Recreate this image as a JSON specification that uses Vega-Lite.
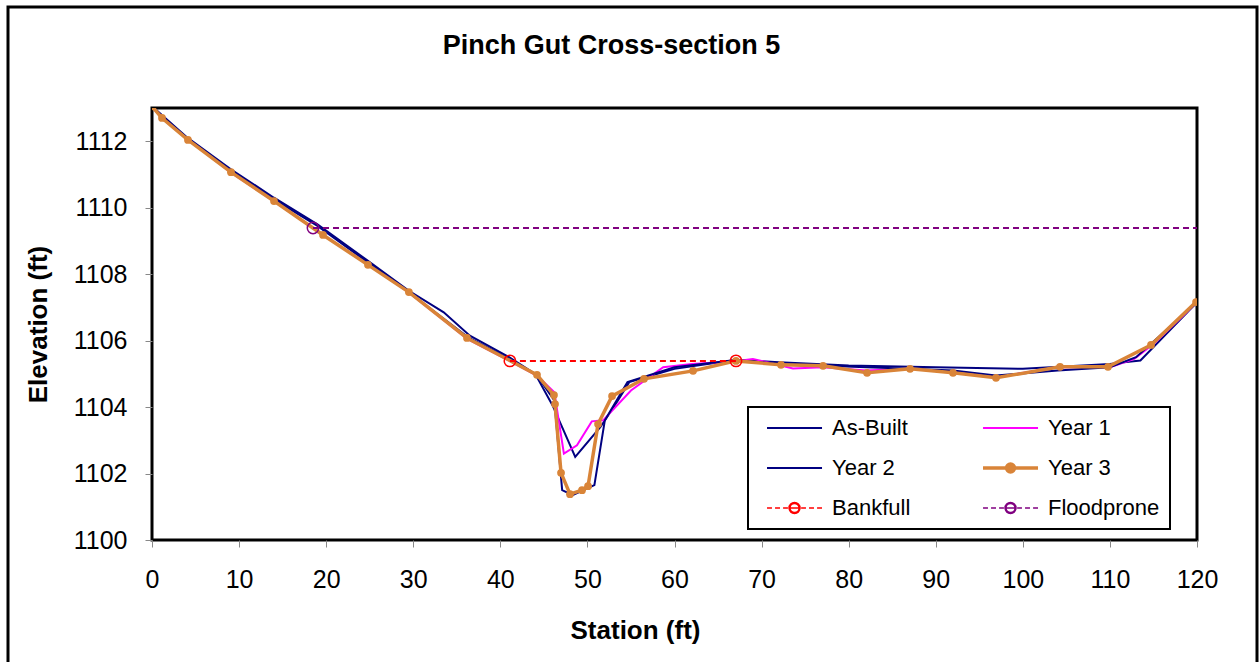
{
  "$schema": "https://vega.github.io/schema/vega-lite/v6.json",
  "width": 1045,
  "height": 432,
  "autosize": {"type": "none"},
  "padding": {"left": 152, "top": 108, "right": 62, "bottom": 122},
  "background": "white",
  "title": {"text": "Pinch Gut Cross-section 5", "font": "Liberation Sans", "fontSize": 27, "fontWeight": "bold", "color": "black", "anchor": "middle", "frame": "group", "dx": -63, "offset": 48, "dy": 102},
  "config": {
    "view": {"stroke": "black", "strokeWidth": 3},
    "axis": {"grid": false, "domain": false, "tickColor": "#888888", "tickSize": 7, "tickWidth": 1, "labelFont": "Liberation Sans", "labelFontSize": 25, "labelColor": "black", "labelFlush": false, "labelOverlap": false, "titleFont": "Liberation Sans", "titleFontSize": 26, "titleFontWeight": "bold", "titleColor": "black"}
  },
  "data": {"values": [
    {"series": "As-Built", "station": 0, "elevation": 1113.05},
    {"series": "As-Built", "station": 4.1, "elevation": 1112.1},
    {"series": "As-Built", "station": 9.1, "elevation": 1111.15},
    {"series": "As-Built", "station": 14, "elevation": 1110.3},
    {"series": "As-Built", "station": 19, "elevation": 1109.5},
    {"series": "As-Built", "station": 24.8, "elevation": 1108.4},
    {"series": "As-Built", "station": 29.5, "elevation": 1107.5},
    {"series": "As-Built", "station": 33.5, "elevation": 1106.85},
    {"series": "As-Built", "station": 36.5, "elevation": 1106.15},
    {"series": "As-Built", "station": 41, "elevation": 1105.5},
    {"series": "As-Built", "station": 44, "elevation": 1105.0},
    {"series": "As-Built", "station": 46, "elevation": 1104.05},
    {"series": "As-Built", "station": 48.6, "elevation": 1102.5},
    {"series": "As-Built", "station": 51.5, "elevation": 1103.4},
    {"series": "As-Built", "station": 53.5, "elevation": 1104.2},
    {"series": "As-Built", "station": 54.8, "elevation": 1104.75},
    {"series": "As-Built", "station": 60, "elevation": 1105.15},
    {"series": "As-Built", "station": 67, "elevation": 1105.42},
    {"series": "As-Built", "station": 72, "elevation": 1105.35},
    {"series": "As-Built", "station": 80, "elevation": 1105.25},
    {"series": "As-Built", "station": 90, "elevation": 1105.2},
    {"series": "As-Built", "station": 100, "elevation": 1105.15},
    {"series": "As-Built", "station": 110, "elevation": 1105.3},
    {"series": "As-Built", "station": 113.5, "elevation": 1105.4},
    {"series": "As-Built", "station": 120, "elevation": 1107.15},

    {"series": "Year 1", "station": 0, "elevation": 1113.05},
    {"series": "Year 1", "station": 1.1, "elevation": 1112.72},
    {"series": "Year 1", "station": 4.1, "elevation": 1112.05},
    {"series": "Year 1", "station": 9.1, "elevation": 1111.05},
    {"series": "Year 1", "station": 14, "elevation": 1110.2},
    {"series": "Year 1", "station": 19.5, "elevation": 1109.2},
    {"series": "Year 1", "station": 24.8, "elevation": 1108.3},
    {"series": "Year 1", "station": 29.5, "elevation": 1107.45},
    {"series": "Year 1", "station": 36.2, "elevation": 1106.05},
    {"series": "Year 1", "station": 41, "elevation": 1105.4},
    {"series": "Year 1", "station": 44.2, "elevation": 1104.95},
    {"series": "Year 1", "station": 46.2, "elevation": 1104.45},
    {"series": "Year 1", "station": 47.3, "elevation": 1102.6},
    {"series": "Year 1", "station": 48.8, "elevation": 1102.85},
    {"series": "Year 1", "station": 50.5, "elevation": 1103.57},
    {"series": "Year 1", "station": 51.8, "elevation": 1103.6},
    {"series": "Year 1", "station": 55, "elevation": 1104.5},
    {"series": "Year 1", "station": 58.7, "elevation": 1105.2},
    {"series": "Year 1", "station": 62, "elevation": 1105.3},
    {"series": "Year 1", "station": 67, "elevation": 1105.38},
    {"series": "Year 1", "station": 69, "elevation": 1105.45},
    {"series": "Year 1", "station": 73.6, "elevation": 1105.16},
    {"series": "Year 1", "station": 77, "elevation": 1105.2},
    {"series": "Year 1", "station": 82, "elevation": 1105.1},
    {"series": "Year 1", "station": 87, "elevation": 1105.15},
    {"series": "Year 1", "station": 92, "elevation": 1105.05},
    {"series": "Year 1", "station": 97, "elevation": 1104.9},
    {"series": "Year 1", "station": 104, "elevation": 1105.2},
    {"series": "Year 1", "station": 110, "elevation": 1105.2},
    {"series": "Year 1", "station": 112.8, "elevation": 1105.45},
    {"series": "Year 1", "station": 115, "elevation": 1105.9},
    {"series": "Year 1", "station": 120, "elevation": 1107.15},

    {"series": "Year 2", "station": 0, "elevation": 1113.05},
    {"series": "Year 2", "station": 4.1, "elevation": 1112.05},
    {"series": "Year 2", "station": 9.1, "elevation": 1111.1},
    {"series": "Year 2", "station": 14, "elevation": 1110.25},
    {"series": "Year 2", "station": 19, "elevation": 1109.45},
    {"series": "Year 2", "station": 24.8, "elevation": 1108.35},
    {"series": "Year 2", "station": 29.5, "elevation": 1107.45},
    {"series": "Year 2", "station": 36.3, "elevation": 1106.1},
    {"series": "Year 2", "station": 41, "elevation": 1105.45},
    {"series": "Year 2", "station": 44.2, "elevation": 1104.95},
    {"series": "Year 2", "station": 46.2, "elevation": 1104.2},
    {"series": "Year 2", "station": 47.1, "elevation": 1101.5},
    {"series": "Year 2", "station": 48.3, "elevation": 1101.35},
    {"series": "Year 2", "station": 50.8, "elevation": 1101.65},
    {"series": "Year 2", "station": 52.0, "elevation": 1103.6},
    {"series": "Year 2", "station": 54.6, "elevation": 1104.75},
    {"series": "Year 2", "station": 60, "elevation": 1105.2},
    {"series": "Year 2", "station": 67, "elevation": 1105.42},
    {"series": "Year 2", "station": 72, "elevation": 1105.3},
    {"series": "Year 2", "station": 82, "elevation": 1105.2},
    {"series": "Year 2", "station": 87, "elevation": 1105.15},
    {"series": "Year 2", "station": 92, "elevation": 1105.1},
    {"series": "Year 2", "station": 96.9, "elevation": 1104.95},
    {"series": "Year 2", "station": 104, "elevation": 1105.1},
    {"series": "Year 2", "station": 110, "elevation": 1105.2},
    {"series": "Year 2", "station": 113, "elevation": 1105.5},
    {"series": "Year 2", "station": 120, "elevation": 1107.15},

    {"series": "Year 3", "station": 0, "elevation": 1113.05},
    {"series": "Year 3", "station": 1.15, "elevation": 1112.7},
    {"series": "Year 3", "station": 4.13, "elevation": 1112.04},
    {"series": "Year 3", "station": 9.07, "elevation": 1111.07},
    {"series": "Year 3", "station": 14.01, "elevation": 1110.2},
    {"series": "Year 3", "station": 19.64, "elevation": 1109.18},
    {"series": "Year 3", "station": 24.8, "elevation": 1108.28},
    {"series": "Year 3", "station": 29.5, "elevation": 1107.46},
    {"series": "Year 3", "station": 36.17, "elevation": 1106.08},
    {"series": "Year 3", "station": 44.21, "elevation": 1104.97},
    {"series": "Year 3", "station": 46.16, "elevation": 1104.36},
    {"series": "Year 3", "station": 46.28, "elevation": 1104.09},
    {"series": "Year 3", "station": 46.97, "elevation": 1102.02},
    {"series": "Year 3", "station": 48.0, "elevation": 1101.38},
    {"series": "Year 3", "station": 49.38, "elevation": 1101.5},
    {"series": "Year 3", "station": 50.07, "elevation": 1101.62},
    {"series": "Year 3", "station": 51.22, "elevation": 1103.49},
    {"series": "Year 3", "station": 52.83, "elevation": 1104.33},
    {"series": "Year 3", "station": 56.5, "elevation": 1104.85},
    {"series": "Year 3", "station": 62.13, "elevation": 1105.09},
    {"series": "Year 3", "station": 67.06, "elevation": 1105.39},
    {"series": "Year 3", "station": 72.23, "elevation": 1105.27},
    {"series": "Year 3", "station": 77.06, "elevation": 1105.24},
    {"series": "Year 3", "station": 82.11, "elevation": 1105.03},
    {"series": "Year 3", "station": 87.05, "elevation": 1105.15},
    {"series": "Year 3", "station": 91.98, "elevation": 1105.03},
    {"series": "Year 3", "station": 96.92, "elevation": 1104.88},
    {"series": "Year 3", "station": 104.27, "elevation": 1105.21},
    {"series": "Year 3", "station": 109.78, "elevation": 1105.21},
    {"series": "Year 3", "station": 114.72, "elevation": 1105.87},
    {"series": "Year 3", "station": 119.89, "elevation": 1107.16},

    {"series": "Bankfull", "station": 41.1, "elevation": 1105.39},
    {"series": "Bankfull", "station": 67.06, "elevation": 1105.39},

    {"series": "Floodprone", "station": 18.49, "elevation": 1109.39},
    {"series": "Floodprone", "station": 120, "elevation": 1109.39}
  ]},
  "encoding": {
    "x": {"field": "station", "type": "quantitative", "scale": {"domain": [0, 120], "nice": false, "zero": false},
      "axis": {"values": [0, 10, 20, 30, 40, 50, 60, 70, 80, 90, 100, 110, 120], "format": "d", "labelPadding": 20, "title": "Station (ft)", "titleX": 483, "titleY": 90, "titleBaseline": "middle", "titleAlign": "center"}},
    "y": {"field": "elevation", "type": "quantitative", "scale": {"domain": [1100, 1113], "nice": false, "zero": false},
      "axis": {"values": [1100, 1102, 1104, 1106, 1108, 1110, 1112], "format": "d", "labelPadding": 18, "title": "Elevation (ft)", "titleX": -114, "titleY": 216, "titleAngle": -90, "titleBaseline": "middle", "titleAlign": "center"}}
  },
  "layer": [
    {
      "transform": [{"filter": "datum.series === 'As-Built' || datum.series === 'Year 1' || datum.series === 'Year 2'"}],
      "mark": {"type": "line", "strokeWidth": 2, "clip": true},
      "encoding": {
        "detail": {"field": "series"},
        "color": {"field": "series", "type": "nominal",
          "scale": {"domain": ["As-Built", "Year 1", "Year 2", "Year 3", "Bankfull", "Floodprone"], "range": ["#000080", "#FF00FF", "#000080", "#D98438", "#FF0000", "#800080"]},
          "legend": {"title": null, "orient": "none", "direction": "horizontal", "legendX": 596, "legendY": 299, "columns": 2, "padding": 10,
            "strokeColor": "black", "fillColor": "white", "cornerRadius": 0,
            "symbolSize": 484, "symbolType": "M-0.18,0H4.82", "labelFont": "Liberation Sans", "labelFontSize": 22, "labelColor": "black",
            "labelOffset": 52, "columnPadding": 63, "rowPadding": 18, "labelLimit": 300,
            "encode": {
              "legend": {"update": {"strokeWidth": {"value": 2}}},
              "symbols": {"update": {
              "shape": {"signal": "datum.value === 'Year 3' ? 'M-0.18,0H4.82M2.68,0A0.36,0.36 0 1,1 1.96,0A0.36,0.36 0 1,1 2.68,0Z' : ((datum.value === 'Bankfull' || datum.value === 'Floodprone') ? 'M-0.18,0H0.27M0.55,0H1.0M1.28,0H1.72M1.82,0H2.82M2.92,0H3.36M3.64,0H4.09M4.37,0H4.82M2.82,0A0.5,0.5 0 1,1 1.82,0A0.5,0.5 0 1,1 2.82,0ZM2.73,0A0.41,0.41 0 1,0 1.91,0A0.41,0.41 0 1,0 2.73,0Z' : 'M-0.18,0H4.82')"},
              "strokeWidth": {"signal": "datum.value === 'Year 3' ? 3.5 : ((datum.value === 'Bankfull' || datum.value === 'Floodprone') ? 1.4 : 2)"},
              "fillOpacity": {"value": 1},
              "strokeOpacity": {"value": 1},
              "opacity": {"value": 1}
            }}}
          }
        }
      }
    },
    {
      "transform": [{"filter": "datum.series === 'Year 3'"}],
      "mark": {"type": "line", "strokeWidth": 3.5, "clip": true},
      "encoding": {"color": {"field": "series", "type": "nominal", "legend": null}}
    },
    {
      "transform": [{"filter": "datum.series === 'Year 3'"}],
      "mark": {"type": "point", "filled": true, "size": 60, "opacity": 1, "clip": true},
      "encoding": {"color": {"field": "series", "type": "nominal", "legend": null}}
    },
    {
      "transform": [{"filter": "datum.series === 'Bankfull' || datum.series === 'Floodprone'"}],
      "mark": {"type": "line", "strokeWidth": 2, "strokeDash": [6, 4], "clip": true},
      "encoding": {"detail": {"field": "series"}, "color": {"field": "series", "type": "nominal", "legend": null}}
    },
    {
      "transform": [{"filter": "(datum.series === 'Bankfull' || datum.series === 'Floodprone') && datum.station < 100"}],
      "mark": {"type": "point", "filled": false, "size": 130, "strokeWidth": 1.5, "opacity": 1, "clip": true},
      "encoding": {"color": {"field": "series", "type": "nominal", "legend": null}}
    },
    {
      "data": {"values": [{}]},
      "mark": {"type": "rect", "fill": null, "stroke": "black", "strokeWidth": 3, "clip": false},
      "encoding": {
        "x": {"value": -144},
        "x2": {"value": 1105},
        "y": {"value": -101},
        "y2": {"value": 570}
      }
    }
  ]
}
